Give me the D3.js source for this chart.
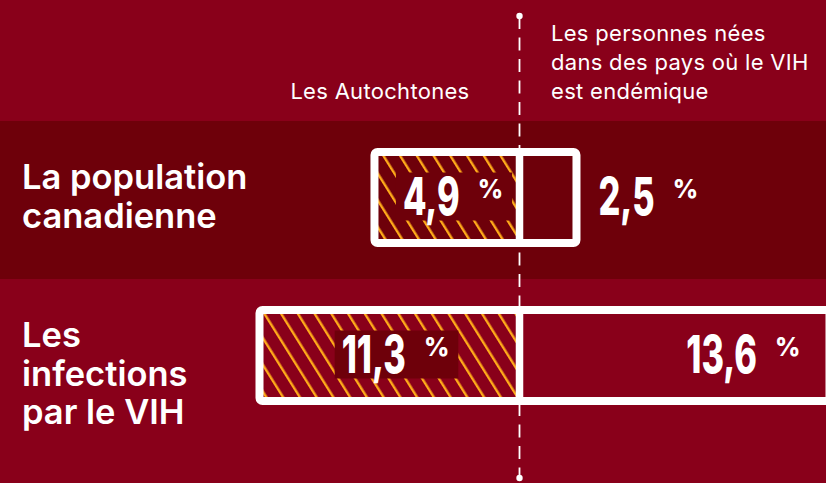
<!DOCTYPE html>
<html>
<head>
<meta charset="utf-8">
<script src="https://cdn.jsdelivr.net/npm/d3@7"></script>
<style>
  html, body { margin: 0; padding: 0; background: #89001a; }
  svg { display: block; }
</style>
</head>
<body>
<svg id="chart" width="826" height="483"></svg>
<script>
// Row categories and how their labels wrap
const categories = ["La population canadienne", "Les infections par le VIH"];
const categoryLines = [["La population", "canadienne"], ["Les", "infections", "par le VIH"]];

// Series (left and right of the centre line)
const seriesNames = ["Les Autochtones", "Les personnes nées dans des pays où le VIH est endémique"];
const seriesNameLines = [["Les Autochtones"], ["Les personnes nées", "dans des pays où le VIH", "est endémique"]];

// Percentages
const autochtones = [4.9, 11.3];
const endemique = [2.5, 13.6];

const W = 826, H = 483;
const colors = { bg: "#89001a", band: "#6e000a", hatch: "#ffab1a", white: "#ffffff" };
const rowFill = [colors.band, colors.bg];

const frLocale = d3.formatLocale({ decimal: ",", thousands: "\u00a0", grouping: [3], currency: ["", "\u00a0$"] });
const fmt = frLocale.format(".1f");

const svg = d3.select("#chart");
svg.append("rect").attr("width", W).attr("height", H).attr("fill", colors.bg);

// Diagonal hatching for the left-hand bars
const defs = svg.append("defs");
const pat = defs.append("pattern")
  .attr("id", "hatch")
  .attr("patternUnits", "userSpaceOnUse")
  .attr("width", 14.2).attr("height", 20)
  .attr("patternTransform", "rotate(-32)");
pat.append("rect").attr("x", 0).attr("y", 0).attr("width", 2.4).attr("height", 20).attr("fill", colors.hatch);

const cx = 519.5;
const y = d3.scaleBand().domain(categories).range([121, 437]);
const xLeft = d3.scaleLinear().domain([0, d3.max(autochtones)]).range([cx - 57, cx - 260]);
const xRight = d3.scaleLinear().domain([0, d3.max(endemique)]).range([cx, cx + 310]);

const boxH = 91;
const numFont = { family: "Inter, Roboto, sans-serif", size: 52, weight: 800, sx: 0.66 };
const pctFont = { size: 26, sx: 0.95 };
const pctGap = 18;
const textFont = "Inter, Roboto, sans-serif";

// Row bands
svg.selectAll("rect.band")
  .data(categories)
  .join("rect")
  .attr("class", "band")
  .attr("x", 0).attr("width", W)
  .attr("y", d => y(d)).attr("height", y.bandwidth())
  .attr("fill", (d, i) => rowFill[i]);

// Centre line
const lineTop = 16, lineBottom = 478;
svg.append("line")
  .attr("x1", cx).attr("x2", cx)
  .attr("y1", lineTop).attr("y2", lineBottom)
  .attr("stroke", colors.white).attr("stroke-width", 1.8)
  .attr("stroke-dasharray", "13 8.5");
svg.selectAll("circle.end")
  .data([lineTop, lineBottom])
  .join("circle")
  .attr("class", "end")
  .attr("cx", cx).attr("cy", d => d).attr("r", 3.2)
  .attr("fill", colors.white);

// Value label: big condensed number followed by a small raised "%"
function valueLabel(parent, value, baseline) {
  const g = parent.append("g");
  const num = g.append("text")
    .text(fmt(value))
    .attr("font-family", numFont.family)
    .attr("font-size", numFont.size)
    .attr("font-weight", numFont.weight)
    .attr("fill", colors.white);
  const pct = g.append("text")
    .text("%")
    .attr("font-family", numFont.family)
    .attr("font-size", pctFont.size)
    .attr("font-weight", numFont.weight)
    .attr("fill", colors.white);
  const numW = num.node().getComputedTextLength() * numFont.sx;
  const pctW = pct.node().getComputedTextLength() * pctFont.sx;
  const total = numW + pctGap + pctW;
  return {
    g, total,
    place(x0) {
      num.attr("transform", `translate(${x0},${baseline}) scale(${numFont.sx},1)`);
      pct.attr("transform", `translate(${x0 + numW + pctGap},${baseline - 17}) scale(${pctFont.sx},1)`);
    }
  };
}

categories.forEach((cat, i) => {
  const row = svg.append("g");
  const cy = y(cat) + y.bandwidth() / 2 - 2.5;
  const top = cy - boxH / 2;
  const a = autochtones[i], e = endemique[i];
  const xl = xLeft(a), xr = xRight(e);

  // hatched left part
  row.append("rect")
    .attr("x", xl).attr("y", top).attr("width", cx - xl).attr("height", boxH)
    .attr("fill", "url(#hatch)");

  const baseline = cy + 17.5;

  // left value, centred in its bar on a solid plate
  const plate = row.append("rect").attr("fill", colors.band);
  const lv = valueLabel(row, a, baseline);
  const plateW = lv.total + 16;
  const plateX = (xl + cx) / 2 + 7 - plateW / 2;
  plate.attr("x", plateX).attr("y", baseline - 18.5 - 24)
    .attr("width", plateW).attr("height", 48);
  lv.place(plateX + 7);

  // outline around both parts plus the divider
  row.append("rect")
    .attr("x", xl).attr("y", top).attr("width", xr - xl).attr("height", boxH)
    .attr("rx", 3)
    .attr("fill", "none").attr("stroke", colors.white).attr("stroke-width", 8);
  row.append("line")
    .attr("x1", cx).attr("x2", cx).attr("y1", top).attr("y2", top + boxH)
    .attr("stroke", colors.white).attr("stroke-width", 7.5);

  // right value: outside a short bar, inside a long one
  const rv = valueLabel(row, e, baseline);
  if (xr - cx < rv.total + 60) rv.place(xr + 22);
  else rv.place(xr - 29 - rv.total);

  // category label
  const lab = row.append("text")
    .attr("font-family", textFont)
    .attr("font-size", 34.5).attr("font-weight", 600)
    .attr("fill", colors.white);
  categoryLines[i].forEach((ln, j) => {
    lab.append("tspan").attr("x", 22).attr("y", y(cat) + 68 + j * 38.5).text(ln);
  });
});

// Series headers
const headBase = 98.5;
svg.append("text")
  .attr("x", cx - 50).attr("y", headBase)
  .attr("text-anchor", "end")
  .attr("font-family", textFont)
  .attr("font-size", 22).attr("letter-spacing", 0.3).attr("fill", colors.white)
  .text(seriesNameLines[0][0]);
const rh = svg.append("text")
  .attr("font-family", textFont)
  .attr("font-size", 22).attr("letter-spacing", 0.3).attr("fill", colors.white);
seriesNameLines[1].forEach((ln, j, arr) => {
  rh.append("tspan").attr("x", cx + 31.5).attr("y", headBase - (arr.length - 1 - j) * 28.6).text(ln);
});
</script>
</body>
</html>
